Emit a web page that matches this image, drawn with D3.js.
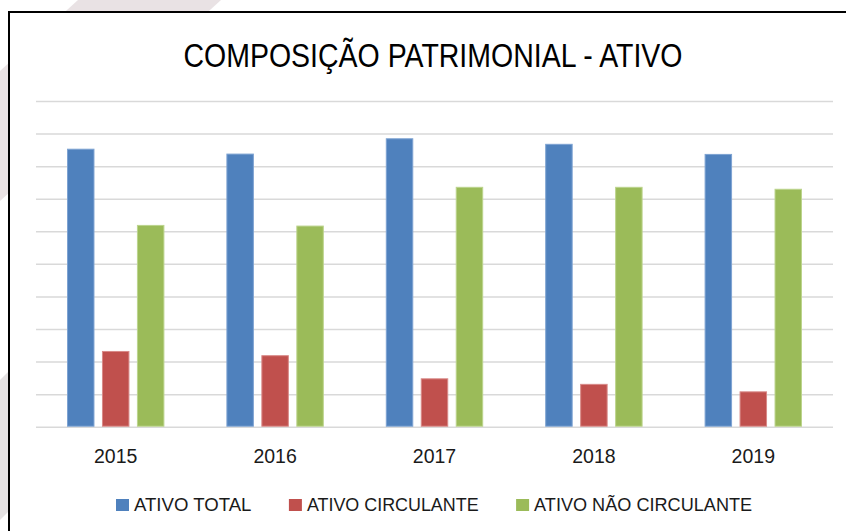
<!DOCTYPE html>
<html>
<head>
<meta charset="utf-8">
<script src="https://cdn.jsdelivr.net/npm/d3@7"></script>
<style>
  html, body { margin: 0; padding: 0; background: #ffffff; overflow: hidden; }
  svg { display: block; }
</style>
</head>
<body>
<svg id="chart" width="846" height="531"></svg>
<script>
// ---- data ----
const categories = ["2015", "2016", "2017", "2018", "2019"];
const seriesNames = ["ATIVO TOTAL", "ATIVO CIRCULANTE", "ATIVO NÃO CIRCULANTE"];
const ativoTotal = [8.52, 8.37, 8.84, 8.67, 8.36];
const ativoCirculante = [2.31, 2.18, 1.47, 1.30, 1.07];
const ativoNaoCirculante = [6.18, 6.16, 7.35, 7.35, 7.29];
const gridTicks = [0, 1, 2, 3, 4, 5, 6, 7, 8, 9, 10];
const titleText = "COMPOSIÇÃO PATRIMONIAL - ATIVO";

const seriesValues = [ativoTotal, ativoCirculante, ativoNaoCirculante];
const colors = ["#4f81bd", "#c0504d", "#9bbb59"];
const strokes = ["#7ea3d2", "#d88987", "#bcd48d"];

const svg = d3.select("#chart");
const FONT = "'Liberation Sans', Arial, sans-serif";

// background watermark bands (outside chart box)
const wm = "#e9e2e4";
svg.append("polygon").attr("points", "78,0 221,0 0,201 0,71").attr("fill", wm);
svg.append("polygon").attr("points", "20,360 20,500 0,520 0,380").attr("fill", "#e4e1e2");

// chart box
svg.append("rect").attr("x", 9).attr("y", 12).attr("width", 900).attr("height", 600)
  .attr("fill", "#ffffff").attr("stroke", "#000000").attr("stroke-width", 2);

// scales
const plotLeft = 36, plotRight = 833;
const x0 = d3.scaleBand().domain(categories).range([plotLeft, plotRight]).paddingInner(0).paddingOuter(0);
const groupPad = 31;
const x1 = d3.scaleBand().domain(d3.range(seriesNames.length))
  .range([groupPad, x0.bandwidth() - groupPad]).paddingInner(0.2143).paddingOuter(0);
const y = d3.scaleLinear().domain([0, 10]).range([426.7, 101]);

// gridlines
const grid = d3.axisLeft(y).tickValues(gridTicks).tickSize(-(plotRight - plotLeft)).tickFormat("");
const gG = svg.append("g").attr("transform", `translate(${plotLeft},0)`).call(grid);
gG.select(".domain").remove();
gG.selectAll(".tick line").attr("stroke", "#d9d9d9").attr("stroke-width", 1.5);

// bars
const groups = svg.append("g").selectAll("g").data(categories).join("g")
  .attr("transform", d => `translate(${x0(d)},0)`);
groups.selectAll("rect")
  .data((d, i) => seriesValues.map((vals, s) => ({ s, v: vals[i] })))
  .join("rect")
  .attr("x", d => x1(d.s) + 0.5)
  .attr("width", x1.bandwidth() - 1)
  .attr("y", d => y(d.v))
  .attr("height", d => y(0) - y(d.v) - 0.5)
  .attr("fill", d => colors[d.s])
  .attr("stroke", d => strokes[d.s])
  .attr("stroke-width", 1);

// x axis labels
const xAxis = d3.axisBottom(x0).tickSize(0).tickPadding(0);
const xg = svg.append("g").attr("transform", `translate(0,447)`).call(xAxis);
xg.select(".domain").remove();
xg.selectAll(".tick text")
  .attr("dy", "0").attr("y", 15.5)
  .attr("font-family", FONT).attr("font-size", 19.5).attr("fill", "#1a1a1a");

// title
svg.append("text").attr("x", 433).attr("y", 67)
  .attr("text-anchor", "middle")
  .attr("font-family", FONT).attr("font-size", 34).attr("fill", "#000000")
  .attr("textLength", 499).attr("lengthAdjust", "spacingAndGlyphs")
  .text(titleText);

// legend
const legendTextWidths = [117.4, 171.7, 218];
const legendGap = 37.5, swatchW = 13, swatchH = 12, swatchGap = 5;
let lx = 116;
seriesNames.forEach((name, i) => {
  const g = svg.append("g").attr("transform", `translate(${lx},0)`);
  g.append("rect").attr("x", 0).attr("y", 499).attr("width", swatchW).attr("height", swatchH)
    .attr("fill", colors[i]);
  g.append("text").attr("x", swatchW + swatchGap).attr("y", 511)
    .attr("font-family", FONT).attr("font-size", 19).attr("fill", "#1a1a1a")
    .attr("textLength", legendTextWidths[i]).attr("lengthAdjust", "spacingAndGlyphs")
    .text(name);
  lx += swatchW + swatchGap + legendTextWidths[i] + legendGap;
});
</script>
</body>
</html>
